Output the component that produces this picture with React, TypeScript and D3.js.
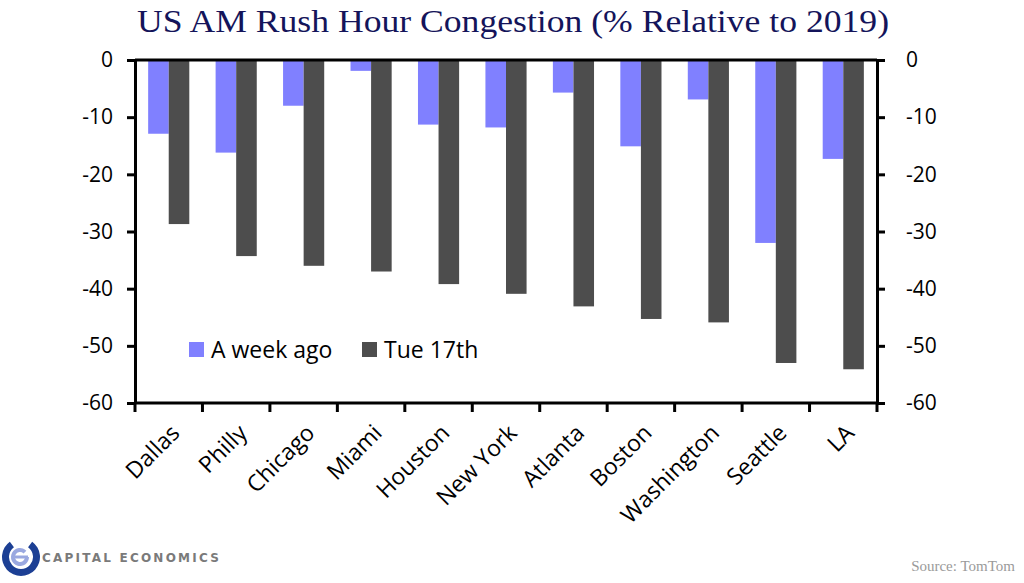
import React, { useEffect, useRef } from 'react';
import * as d3 from 'd3';

const cities = ['Dallas', 'Philly', 'Chicago', 'Miami', 'Houston', 'New York', 'Atlanta', 'Boston', 'Washington', 'Seattle', 'LA'];
const weekAgo = [-12.9, -16.2, -8.0, -1.9, -11.3, -11.8, -5.7, -15.1, -6.9, -32.0, -17.3];
const tue17th = [-28.7, -34.3, -36.0, -37.0, -39.2, -40.9, -43.1, -45.3, -45.9, -53.0, -54.1];
const seriesNames = ['A week ago', 'Tue 17th'];
const seriesColors = ['#8080ff', '#4d4d4d'];
const yTicks = [0, -10, -20, -30, -40, -50, -60];

const width = 1024;
const height = 583;

const App: React.FC = () => {
  const svgRef = useRef<SVGSVGElement>(null);

  useEffect(() => {
    if (!svgRef.current) return;
    const svg = d3.select(svgRef.current);
    svg.selectAll('*').remove();

    const margin = { top: 60, right: 147, bottom: 180, left: 135 };
    const innerW = width - margin.left - margin.right;
    const innerH = height - margin.top - margin.bottom;
    const labelFont = "'Open Sans', 'Lato', sans-serif";

    const x = d3.scaleBand<string>().domain(cities).range([0, innerW]).paddingInner(0.39).paddingOuter(0.195);
    const xSub = d3.scaleBand<number>().domain([0, 1]).range([0, x.bandwidth()]);
    const y = d3.scaleLinear().domain([0, -60]).range([0, innerH]);

    // title
    svg.append('text')
      .attr('x', 137)
      .attr('y', 32)
      .attr('textLength', 752)
      .attr('lengthAdjust', 'spacingAndGlyphs')
      .attr('font-family', "'Liberation Serif', serif")
      .attr('font-size', 31)
      .attr('fill', '#14145a')
      .text('US AM Rush Hour Congestion (% Relative to 2019)');

    const g = svg.append('g').attr('transform', `translate(${margin.left},${margin.top})`);

    // bars
    const data = [weekAgo, tue17th];
    data.forEach((vals, si) => {
      g.selectAll(`rect.s${si}`)
        .data(vals)
        .enter()
        .append('rect')
        .attr('class', `s${si}`)
        .attr('x', (d, i) => (x(cities[i]) as number) + (xSub(si) as number))
        .attr('y', y(0))
        .attr('width', xSub.bandwidth())
        .attr('height', d => y(d) - y(0))
        .attr('fill', seriesColors[si]);
    });

    // axes
    const styleAxis = (sel: d3.Selection<SVGGElement, unknown, null, undefined>) => {
      sel.select('.domain').attr('stroke', '#000').attr('stroke-width', 3);
      sel.selectAll('.tick line').attr('stroke', '#000').attr('stroke-width', 3);
      sel.selectAll('.tick text')
        .attr('font-family', labelFont)
        .attr('font-size', 21)
        .attr('fill', '#000');
    };

    const yLeft = g.append('g')
      .call(d3.axisLeft(y).tickValues(yTicks).tickSize(8).tickSizeOuter(0).tickPadding(14).tickFormat(d => String(d)));
    styleAxis(yLeft as any);

    const yRight = g.append('g')
      .attr('transform', `translate(${innerW},0)`)
      .call(d3.axisRight(y).tickValues(yTicks).tickSize(8).tickSizeOuter(0).tickPadding(21).tickFormat(d => String(d)));
    styleAxis(yRight as any);

    // top border line at zero
    g.append('line')
      .attr('x1', 0).attr('x2', innerW)
      .attr('y1', y(0)).attr('y2', y(0))
      .attr('stroke', '#000').attr('stroke-width', 3);

    // bottom axis with ticks at category boundaries
    const boundaries = d3.range(cities.length + 1).map(i => i * innerW / cities.length);
    const xb = g.append('g').attr('transform', `translate(0,${innerH})`);
    xb.append('line')
      .attr('x1', 0).attr('x2', innerW)
      .attr('stroke', '#000').attr('stroke-width', 3);
    xb.selectAll('line.tk')
      .data(boundaries)
      .enter()
      .append('line')
      .attr('class', 'tk')
      .attr('x1', d => d).attr('x2', d => d)
      .attr('y1', 0).attr('y2', 9)
      .attr('stroke', '#000').attr('stroke-width', 3);

    xb.selectAll('text.lbl')
      .data(cities)
      .enter()
      .append('text')
      .attr('class', 'lbl')
      .attr('transform', d => `translate(${(x(d) as number) + x.bandwidth() / 2 + 1},${20}) rotate(-45)`)
      .attr('text-anchor', 'end')
      .attr('dy', '0.7em')
      .attr('font-family', labelFont)
      .attr('font-size', 23)
      .attr('fill', '#000')
      .text(d => d);

    // legend
    const legend = svg.append('g').attr('transform', 'translate(189,342)');
    const legendX = [0, 173];
    seriesNames.forEach((name, i) => {
      legend.append('rect')
        .attr('x', legendX[i])
        .attr('y', 0)
        .attr('width', 15)
        .attr('height', 15)
        .attr('fill', seriesColors[i]);
      legend.append('text')
        .attr('x', legendX[i] + 22)
        .attr('y', 16)
        .attr('font-family', labelFont)
        .attr('font-size', 23)
        .attr('fill', '#000')
        .text(name);
    });

    // logo
    const logo = svg.append('g').attr('transform', 'translate(21,557)');
    const arc = d3.arc<any>();
    logo.append('path')
      .attr('d', arc({ innerRadius: 12, outerRadius: 19, startAngle: Math.PI * 0.2, endAngle: Math.PI * 1.8 }) as string)
      .attr('fill', '#1c3f94');
    logo.append('path')
      .attr('d', arc({ innerRadius: 5, outerRadius: 9, startAngle: Math.PI * 0.5, endAngle: Math.PI * 2.25 }) as string)
      .attr('transform', 'translate(-1,0)')
      .attr('fill', '#9aa8e0');
    logo.append('rect')
      .attr('x', -6).attr('y', -1.5).attr('width', 13).attr('height', 3)
      .attr('fill', '#9aa8e0');
    svg.append('text')
      .attr('x', 42)
      .attr('y', 562)
      .attr('textLength', 180)
      .attr('font-family', "'DejaVu Sans', sans-serif")
      .attr('font-size', 12)
      .attr('font-weight', 'bold')
      .attr('letter-spacing', 3.2)
      .attr('fill', '#7a7a7a')
      .text('CAPITAL ECONOMICS');

    // source
    svg.append('text')
      .attr('x', 1015)
      .attr('y', 571)
      .attr('text-anchor', 'end')
      .attr('font-family', "'Liberation Serif', serif")
      .attr('font-size', 15)
      .attr('fill', '#9a9a9a')
      .text('Source: TomTom');
  }, []);

  return (
    <svg
      ref={svgRef}
      width={width}
      height={height}
      style={{ position: 'absolute', left: 0, top: 0, background: '#fff' }}
    />
  );
};

export default App;
